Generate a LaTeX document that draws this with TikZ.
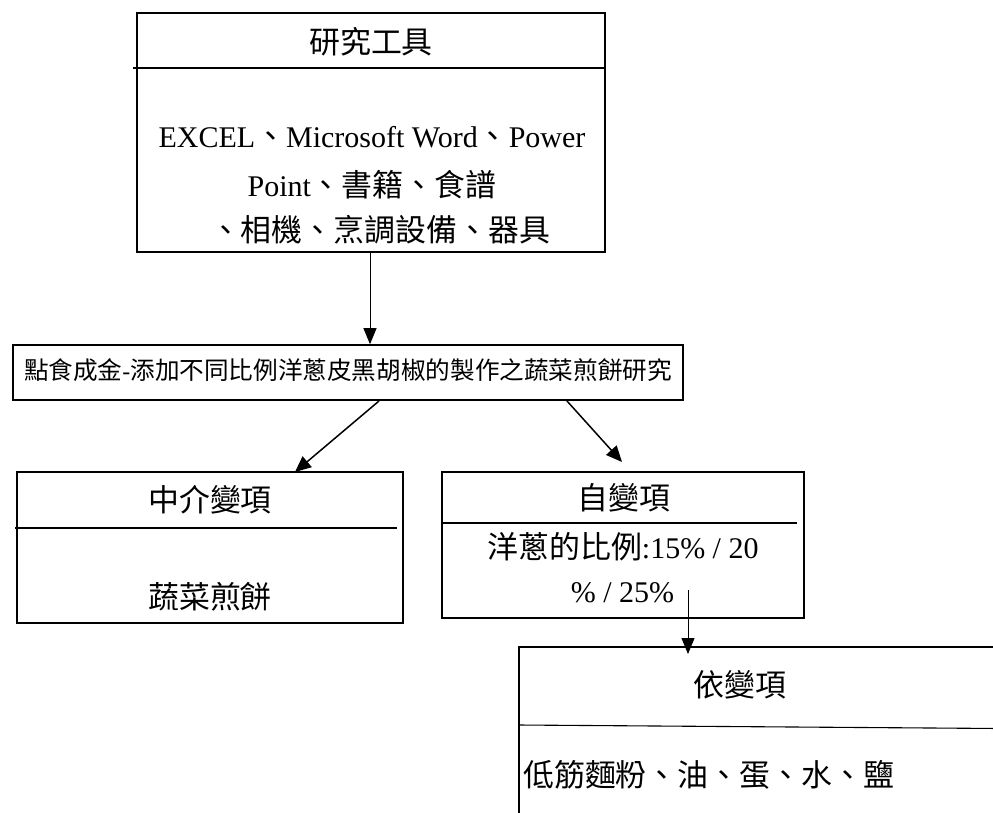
\documentclass[tikz,border=0pt]{standalone}
\usepackage{fontspec}
\setmainfont{Liberation Serif}
\newfontfamily\cjk{Noto Sans CJK TC}[Scale=1.03]
\newcommand{\zh}[1]{{\cjk #1}}
\usetikzlibrary{arrows.meta}
\begin{document}
\begin{tikzpicture}[x=1pt,y=-1pt,
  box/.style={draw,line width=1.6pt,rectangle,inner sep=0pt},
  divider/.style={line width=1.1pt},
  txt/.style={inner sep=0pt,font=\fontsize{30}{36}\selectfont},
  arr/.style={line width=1pt,-{Triangle[length=16pt,width=13pt]}},
  diag/.style={line width=1.5pt,-{Triangle[length=16pt,width=14pt]}}]
\useasboundingbox (0,0) rectangle (993,812);
\clip (0,0) rectangle (993,812);
% top box
\node[box,minimum width=468pt,minimum height=239pt] (tools) at (371,132.5) {};
\draw[divider] (133,68) -- (tools.east |- 0,68);
\node[txt] (toolsT) at (371,42) {\zh{研究工具}};
\node[txt] (toolsL1) at (372,137) {EXCEL\zh{、}Microsoft Word\zh{、}Power};
\node[txt] (toolsL2) at (372,185) {Point\zh{、書籍、食譜}};
\node[txt] (toolsL3) at (380,230) {\zh{、相機、烹調設備、器具}};
% main title box
\node[box,minimum width=670pt,minimum height=55pt] (main) at (348,372.5) {};
\node[inner sep=0pt,font=\fontsize{23.9}{28}\selectfont] (mainT) at (348,370) {\zh{點食成金}-\zh{添加不同比例洋蔥皮黑胡椒的製作之蔬菜煎餅研究}};
% mediator box
\node[box,minimum width=386pt,minimum height=151pt] (med) at (210,547.5) {};
\draw[divider] (15,528) -- (397,528);
\node[txt] (medT) at (210,500) {\zh{中介變項}};
\node[txt] (medB) at (210,597) {\zh{蔬菜煎餅}};
% independent variable box
\node[box,minimum width=362pt,minimum height=146pt] (ind) at (623,545) {};
\draw[divider] (442,523) -- (797,523);
\node[txt] (indT) at (624,498) {\zh{自變項}};
\node[txt] (indL1) at (623,547) {\zh{洋蔥的比例}:15\% / 20};
\node[txt] (indL2) at (622.5,593) {\% / 25\%};
% dependent variable box (runs off the page)
\node[box,minimum width=500pt,minimum height=200pt] (dep) at (769,747) {};
\draw[divider] (519,725) -- (1000,728.5);
\node[txt] (depT) at (740,685) {\zh{依變項}};
\node[txt,anchor=west] (depB) at (523,775) {\zh{低筋麵粉、油、蛋、水、鹽}};
% connectors
\draw[arr] (tools.south -| 370,0) -- (main.north -| 370,0);
\coordinate (l0) at (379,401);
\coordinate (l1) at (295,472);
\draw[diag] (l0) -- (l1);
\coordinate (r0) at (567,401);
\coordinate (r1) at (622,462);
\draw[diag] (r0) -- (r1);
\coordinate (d0) at (688,590);
\coordinate (d1) at (688,654);
\draw[arr] (d0) -- (d1);
\end{tikzpicture}
\end{document}
